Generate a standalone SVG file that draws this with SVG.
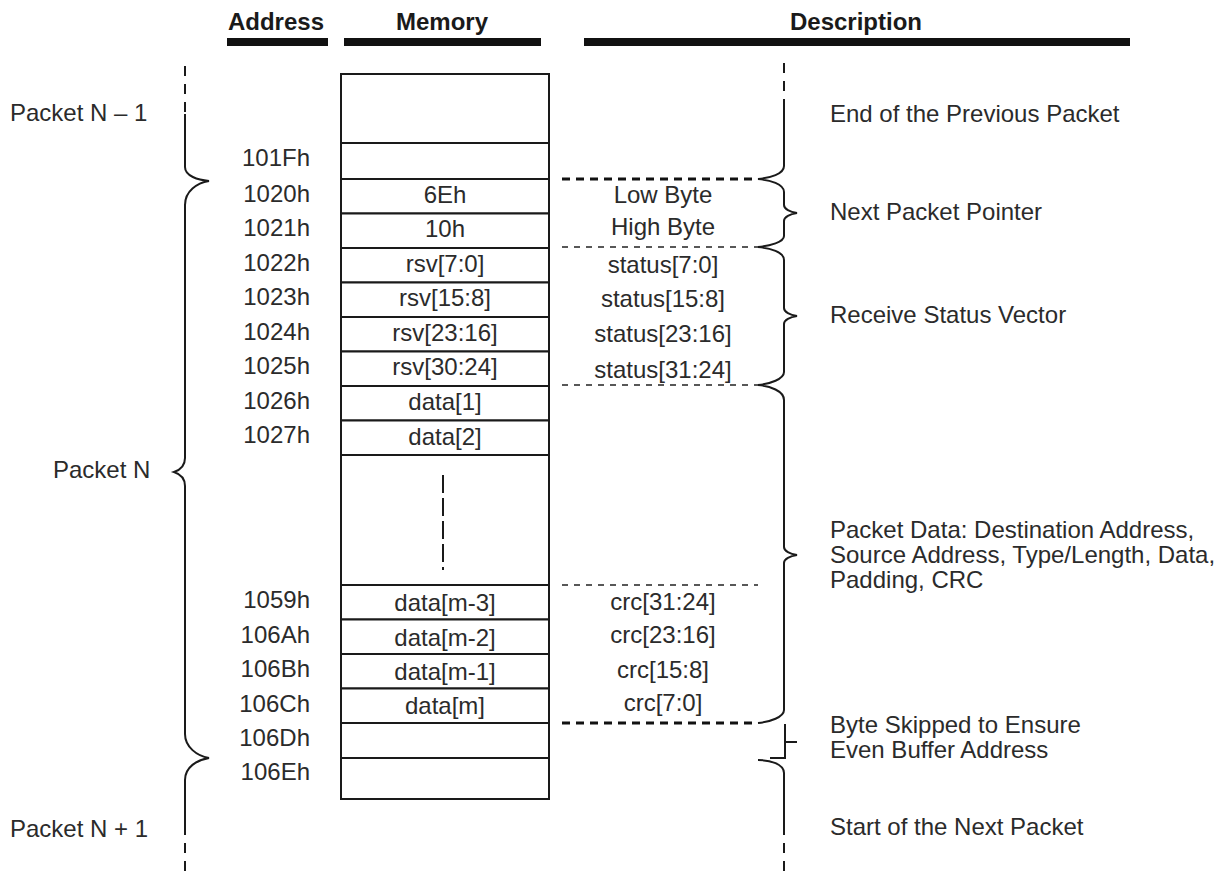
<svg xmlns="http://www.w3.org/2000/svg" width="1228" height="873" viewBox="0 0 1228 873">
<style>
text{font-family:"Liberation Sans",Arial,sans-serif;font-size:24px;fill:#2b2b2b}
.h{font-weight:bold;fill:#1a1a1a}
.c{text-anchor:middle}
.r{text-anchor:end}
.cell{fill:#fff;stroke:#1a1a1a;stroke-width:2}
.br{fill:none;stroke:#1a1a1a;stroke-width:2}
.dsh{fill:none;stroke:#1a1a1a;stroke-width:2;stroke-dasharray:10 8}
.thick{stroke:#111;stroke-width:3;stroke-dasharray:8 6;fill:none}
.thin{stroke:#222;stroke-width:1.6;stroke-dasharray:6 6;fill:none}
</style>
<rect width="1228" height="873" fill="#fff"/>
<g id="header">
<text class="h c" x="276" y="30">Address</text>
<text class="h c" x="442" y="30">Memory</text>
<text class="h c" x="856" y="30">Description</text>
<rect x="227" y="38" width="101" height="8" fill="#111"/>
<rect x="344" y="38" width="197" height="8" fill="#111"/>
<rect x="584" y="38" width="546" height="8" fill="#111"/>
</g>
<g id="memory">
<rect class="cell" x="341" y="74" width="208" height="69"/>
<rect class="cell" x="341" y="143" width="208" height="36"/>
<rect class="cell" x="341" y="179" width="208" height="34.5"/>
<rect class="cell" x="341" y="213.5" width="208" height="34.5"/>
<rect class="cell" x="341" y="248" width="208" height="34.5"/>
<rect class="cell" x="341" y="282.5" width="208" height="34.5"/>
<rect class="cell" x="341" y="317" width="208" height="34.5"/>
<rect class="cell" x="341" y="351.5" width="208" height="34.5"/>
<rect class="cell" x="341" y="386" width="208" height="34.5"/>
<rect class="cell" x="341" y="420.5" width="208" height="34.5"/>
<rect class="cell" x="341" y="455" width="208" height="130"/>
<rect class="cell" x="341" y="585" width="208" height="34.5"/>
<rect class="cell" x="341" y="619.5" width="208" height="34.5"/>
<rect class="cell" x="341" y="654" width="208" height="34.5"/>
<rect class="cell" x="341" y="688.5" width="208" height="34.5"/>
<rect class="cell" x="341" y="723" width="208" height="35"/>
<rect class="cell" x="341" y="758" width="208" height="41"/>
<line x1="443" y1="475" x2="443" y2="570" stroke="#1a1a1a" stroke-width="2" stroke-dasharray="18 5"/>
<text class="c" x="445" y="203">6Eh</text>
<text class="c" x="445" y="237">10h</text>
<text class="c" x="445" y="272">rsv[7:0]</text>
<text class="c" x="445" y="306">rsv[15:8]</text>
<text class="c" x="445" y="341">rsv[23:16]</text>
<text class="c" x="445" y="375">rsv[30:24]</text>
<text class="c" x="445" y="410">data[1]</text>
<text class="c" x="445" y="445">data[2]</text>
<text class="c" x="445" y="611">data[m-3]</text>
<text class="c" x="445" y="646">data[m-2]</text>
<text class="c" x="445" y="680">data[m-1]</text>
<text class="c" x="445" y="714">data[m]</text>
</g>
<g id="addresses">
<text class="r" x="310" y="166">101Fh</text>
<text class="r" x="310" y="202">1020h</text>
<text class="r" x="310" y="236">1021h</text>
<text class="r" x="310" y="271">1022h</text>
<text class="r" x="310" y="305">1023h</text>
<text class="r" x="310" y="340">1024h</text>
<text class="r" x="310" y="374">1025h</text>
<text class="r" x="310" y="409">1026h</text>
<text class="r" x="310" y="443">1027h</text>
<text class="r" x="310" y="608">1059h</text>
<text class="r" x="310" y="643">106Ah</text>
<text class="r" x="310" y="677">106Bh</text>
<text class="r" x="310" y="712">106Ch</text>
<text class="r" x="310" y="746">106Dh</text>
<text class="r" x="310" y="780">106Eh</text>
</g>
<g id="fields">
<text class="c" x="663" y="203">Low Byte</text>
<text class="c" x="663" y="235">High Byte</text>
<text class="c" x="663" y="273">status[7:0]</text>
<text class="c" x="663" y="307">status[15:8]</text>
<text class="c" x="663" y="342">status[23:16]</text>
<text class="c" x="663" y="378">status[31:24]</text>
<text class="c" x="663" y="610">crc[31:24]</text>
<text class="c" x="663" y="643">crc[23:16]</text>
<text class="c" x="663" y="678">crc[15:8]</text>
<text class="c" x="663" y="711">crc[7:0]</text>
</g>
<g id="packets">
<text x="10" y="121">Packet N – 1</text>
<text x="53" y="478">Packet N</text>
<text x="10" y="837">Packet N + 1</text>
</g>
<g id="descriptions">
<text x="830" y="122">End of the Previous Packet</text>
<text x="830" y="220">Next Packet Pointer</text>
<text x="830" y="323">Receive Status Vector</text>
<text x="830" y="538">Packet Data: Destination Address,</text>
<text x="830" y="563">Source Address, Type/Length, Data,</text>
<text x="830" y="588">Padding, CRC</text>
<text x="830" y="733">Byte Skipped to Ensure</text>
<text x="830" y="758">Even Buffer Address</text>
<text x="830" y="835">Start of the Next Packet</text>
</g>
<g id="connectors">
<line class="thick" x1="562" y1="179" x2="758" y2="179"/>
<line class="thin" x1="562" y1="247" x2="758" y2="247"/>
<line class="thin" x1="562" y1="385" x2="758" y2="385"/>
<line class="thin" x1="562" y1="585" x2="758" y2="585"/>
<line class="thick" x1="562" y1="723" x2="758" y2="723"/>
<line class="dsh" x1="185" y1="66" x2="185" y2="114"/>
<path class="br" d="M185,114 V167 C185,176 198,180 209,181 C197,183 185,191 185,205 V458 C185,466 180,470 174,472 C180,474 185,478 185,486 V734 C185,747 197,756 209,758 C197,760 185,767 185,780 V825"/>
<line class="dsh" x1="185" y1="825" x2="185" y2="873"/>
<line class="dsh" x1="784" y1="63" x2="784" y2="107"/>
<path class="br" d="M784,107 V166 C784,174 770,178 758,179 C770,180 784,184 784,192 V205 C784,209 790,212 797,213 C790,214 784,217 784,221 V236 C784,242 770,246 758,247 C770,248 784,252 784,260 V308 C784,312 790,315 797,316 C790,317 784,320 784,324 V372 C784,379 770,384 758,385 C770,386 784,391 784,400 V547 C784,551 790,554 797,555 C790,556 784,559 784,563 V710 C784,717 770,722 758,723"/>
<path class="br" d="M785,724 V758 H770 M785,742 H797"/>
<path class="br" d="M758,760 C770,760 784,764 784,773 V825"/>
<line class="dsh" x1="784" y1="825" x2="784" y2="873"/>
</g>
</svg>
